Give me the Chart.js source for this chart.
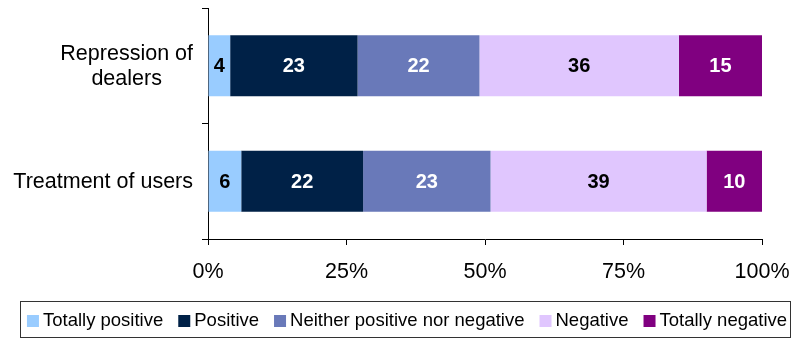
<!DOCTYPE html>
<html lang="en">
<head>
  <meta charset="UTF-8">
  <title>Opinions on drug policy</title>
  <script src="https://cdn.jsdelivr.net/npm/chart.js"></script>
  <style>
    html, body { margin: 0; padding: 0; background: #fff; }
    #wrap { width: 792px; height: 340px; }
  </style>
</head>
<body>
  <div id="wrap"><canvas id="opinionChart" width="792" height="340"></canvas></div>

  <script>
    // categories (top to bottom) and answer shares in percent
    var categories = [['Repression of', 'dealers'], 'Treatment of users'];
    var seriesNames = ['Totally positive', 'Positive', 'Neither positive nor negative', 'Negative', 'Totally negative'];
    var totallyPositive = [4, 6];
    var positive = [23, 22];
    var neither = [22, 23];
    var negative = [36, 39];
    var totallyNegative = [15, 10];
    var xTicks = [0, 25, 50, 75, 100];

    var colors = ['#99CCFF', '#002147', '#6979B9', '#E0C6FE', '#800080'];
    var labelColors = ['#000', '#fff', '#fff', '#000', '#fff'];
    var FONT = '"Liberation Sans", Arial, sans-serif';

    var seriesValues = [totallyPositive, positive, neither, negative, totallyNegative];
    var datasets = seriesValues.map(function (vals, i) {
      return {
        label: seriesNames[i],
        data: vals,
        backgroundColor: colors[i],
        borderWidth: 0,
        categoryPercentage: 1,
        barPercentage: 0.53
      };
    });

    // value text in the middle of each segment
    var segmentLabels = {
      id: 'segmentLabels',
      afterDatasetsDraw: function (chart) {
        var ctx = chart.ctx;
        ctx.save();
        ctx.font = 'bold 20px ' + FONT;
        ctx.textAlign = 'center';
        ctx.textBaseline = 'middle';
        chart.data.datasets.forEach(function (ds, i) {
          var meta = chart.getDatasetMeta(i);
          meta.data.forEach(function (bar, j) {
            var cx = (bar.x + bar.base) / 2;
            ctx.fillStyle = labelColors[i];
            ctx.fillText(String(ds.data[j]), cx, bar.y + 1);
          });
        });
        ctx.restore();
      }
    };

    // category names, lines centred on each other, block right-aligned to the axis
    var categoryLabels = {
      id: 'categoryLabels',
      afterDraw: function (chart) {
        var ctx = chart.ctx;
        var yScale = chart.scales.y;
        ctx.save();
        ctx.font = '21.5px ' + FONT;
        ctx.fillStyle = '#000';
        ctx.textAlign = 'center';
        ctx.textBaseline = 'middle';
        categories.forEach(function (cat, i) {
          var lines = Array.isArray(cat) ? cat : [cat];
          var widest = Math.max.apply(null, lines.map(function (l) { return ctx.measureText(l).width; }));
          var cx = chart.chartArea.left - 15 - widest / 2;
          var cy = yScale.getPixelForTick(i);
          var lh = 25;
          lines.forEach(function (l, k) {
            ctx.fillText(l, cx, cy + (k - (lines.length - 1) / 2) * lh + 1);
          });
        });
        ctx.restore();
      }
    };

    // framed legend row under the axis
    var legendBox = {
      id: 'legendBox',
      afterDraw: function (chart) {
        var ctx = chart.ctx;
        var box = { left: 20, top: 301, width: 770, height: 37 };
        ctx.save();
        ctx.strokeStyle = '#333';
        ctx.lineWidth = 1;
        ctx.strokeRect(box.left + 0.5, box.top + 0.5, box.width, box.height - 1);
        ctx.font = '18.5px ' + FONT;
        ctx.textBaseline = 'middle';
        ctx.textAlign = 'left';
        var sq = 12, gapIn = 4, gapOut = 15;
        var ds = chart.data.datasets;
        var total = 0;
        ds.forEach(function (d, i) {
          total += sq + gapIn + ctx.measureText(d.label).width + (i < ds.length - 1 ? gapOut : 0);
        });
        var x = box.left + (box.width - total) / 2 + 2;
        var cy = box.top + box.height / 2 + 1;
        ds.forEach(function (d) {
          ctx.fillStyle = d.backgroundColor;
          ctx.fillRect(x, Math.round(cy - sq / 2), sq, sq);
          x += sq + gapIn;
          ctx.fillStyle = '#000';
          ctx.fillText(d.label, x, cy);
          x += ctx.measureText(d.label).width + gapOut;
        });
        ctx.restore();
      }
    };

    var ctx = document.getElementById('opinionChart').getContext('2d');
    var chart = new Chart(ctx, {
      type: 'bar',
      data: { labels: categories, datasets: datasets },
      plugins: [segmentLabels, categoryLabels, legendBox],
      options: {
        indexAxis: 'y',
        responsive: false,
        animation: false,
        layout: { padding: { top: 8, right: 30, bottom: 40, left: 20 } },
        scales: {
          x: {
            stacked: true,
            min: 0,
            max: 100,
            afterBuildTicks: function (scale) {
              scale.ticks = xTicks.map(function (v) { return { value: v }; });
            },
            afterFit: function (scale) {
              scale.height = 61;
              // let the end labels overhang instead of shrinking the plot
              scale.paddingLeft = 0;
              scale.paddingRight = 0;
            },
            border: { color: '#000', width: 1 },
            grid: { drawOnChartArea: false, color: '#000', tickLength: 6 },
            ticks: {
              color: '#000',
              font: { family: FONT, size: 21.5 },
              padding: 14,
              maxRotation: 0,
              callback: function (v) { return v + '%'; }
            }
          },
          y: {
            stacked: true,
            afterFit: function (scale) { scale.width = 188; },
            border: { color: '#000', width: 1 },
            grid: { drawOnChartArea: false, color: '#000', tickLength: 6, offset: true },
            ticks: { display: false }
          }
        },
        plugins: {
          legend: { display: false },
          tooltip: { enabled: false }
        }
      }
    });
  </script>
</body>
</html>
